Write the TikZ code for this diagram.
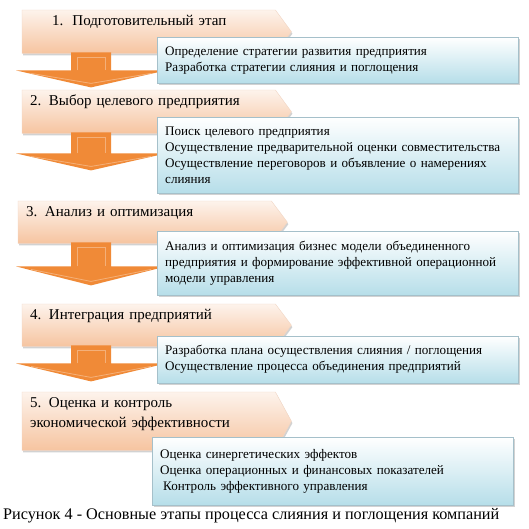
\documentclass[tikz,border=0pt]{standalone}
\usepackage{fontspec}
\setmainfont{Liberation Serif}
\usetikzlibrary{shadows,backgrounds,calc}
\definecolor{stagetop}{RGB}{253,243,236}
\definecolor{stagebot}{RGB}{246,196,160}
\definecolor{stageline}{RGB}{242,214,196}
\definecolor{pfeilorange}{RGB}{240,138,55}
\definecolor{boxbot}{RGB}{182,222,233}
\definecolor{boxline}{RGB}{165,192,202}
\colorlet{pfeilorange-lighter}{pfeilorange!45!white}

\tikzset{
	stage/.style={anchor=north west, inner xsep=8pt, inner ysep=3pt, text width=237pt, align=left,
		text height=12pt, font=\rmfamily\fontsize{15}{20}\selectfont},
	stagefill/.style={top color=stagetop, bottom color=stagebot, draw=stageline, thin,
		drop shadow={shadow xshift=1pt, shadow yshift=-2pt, opacity=0.35}},
	infobox/.style={anchor=north west, draw=boxline, top color=white, bottom color=boxbot,
		inner xsep=8pt, text width=345pt, align=left, font=\rmfamily\fontsize{13.1}{16}\selectfont,
		drop shadow={shadow xshift=1.5pt, shadow yshift=-2pt, opacity=0.35}},
	blockarrow/.style={fill=pfeilorange},
	arrowshine/.style={draw=pfeilorange-lighter, line width=0.8pt, opacity=0.6},
}

\begin{document}
\begin{tikzpicture}[x=1pt, y=-1pt]

	\useasboundingbox (0,0) rectangle (529,528);

	% stages
	\node[stage, text depth=25pt] (s1) at (22,10) {\hspace*{22pt}1.\hspace{9pt}Подготовительный этап};
	\node[stage, text depth=25pt] (s2) at (22,90) {2. Выбор целевого предприятия};
	\node[stage, text depth=24pt] (s3) at (18,201) {3. Анализ и оптимизация};
	\node[stage, text depth=24pt] (s4) at (22,304) {4. Интеграция предприятий};
	\node[stage, text depth=40pt] (s5) at (22,392) {5. Оценка и контроль\\экономической эффективности};

	\begin{pgfonlayer}{background}
		\fill[white] (0,0) rectangle (529,528);
		\foreach \s in {s1,s2,s3,s4,s5}
			\path[stagefill] (\s.north west) -- (\s.north east) -- ([xshift=16pt]\s.east)
				-- (\s.south east) -- (\s.south west) -- cycle;
	\end{pgfonlayer}

	% arrows between the stages
	\coordinate (ax) at (91,0);
	\foreach \s/\l/\h in {s1/17/17, s2/20/17, s3/23/19, s4/17/18}
	{
		\fill[blockarrow] (ax |- \s.south) ++(-20,-1) -- ++(0,\l+1) -- ++(-55,0) -- ++(75,\h)
			-- ++(75,-\h) -- ++(-55,0) -- ++(0,-\l-1) -- cycle;
		\draw[arrowshine] (ax |- \s.south) ++(-14,\l) -- ++(0,-\l+4) -- ++(28,0) -- ++(0,\l-4);
		\draw[arrowshine] (ax |- \s.south) ++(-60,\l+3) -- ++(60,\h-7) -- ++(60,-\h+7);
	}

	% boxes
	\node[infobox, minimum height=46pt] (b1) at (157,37) {Определение стратегии развития предприятия\\Разработка стратегии слияния и поглощения};
	\node[infobox, minimum height=76pt] (b2) at (157,117) {Поиск целевого предприятия\\Осуществление предварительной оценки совместительства\\Осуществление переговоров и объявление о намерениях\\слияния};
	\node[infobox, minimum height=64pt] (b3) at (157,231) {Анализ и оптимизация бизнес модели объединенного\\предприятия и формирование эффективной операционной\\модели управления};
	\node[infobox, minimum height=47pt] (b4) at (157,336) {Разработка плана осуществления слияния / поглощения\\Осуществление процесса объединения предприятий};
	\node[infobox, minimum height=68pt] (b5) at (152,437) {Оценка синергетических эффектов\\Оценка операционных и финансовых показателей\\\hspace*{3pt}Контроль эффективного управления};

	\node[anchor=west, inner sep=0pt, font=\fontsize{16.2}{18}\selectfont] (cap) at (3,516) {Рисунок 4 - Основные этапы процесса слияния и поглощения компаний};

\end{tikzpicture}
\end{document}
